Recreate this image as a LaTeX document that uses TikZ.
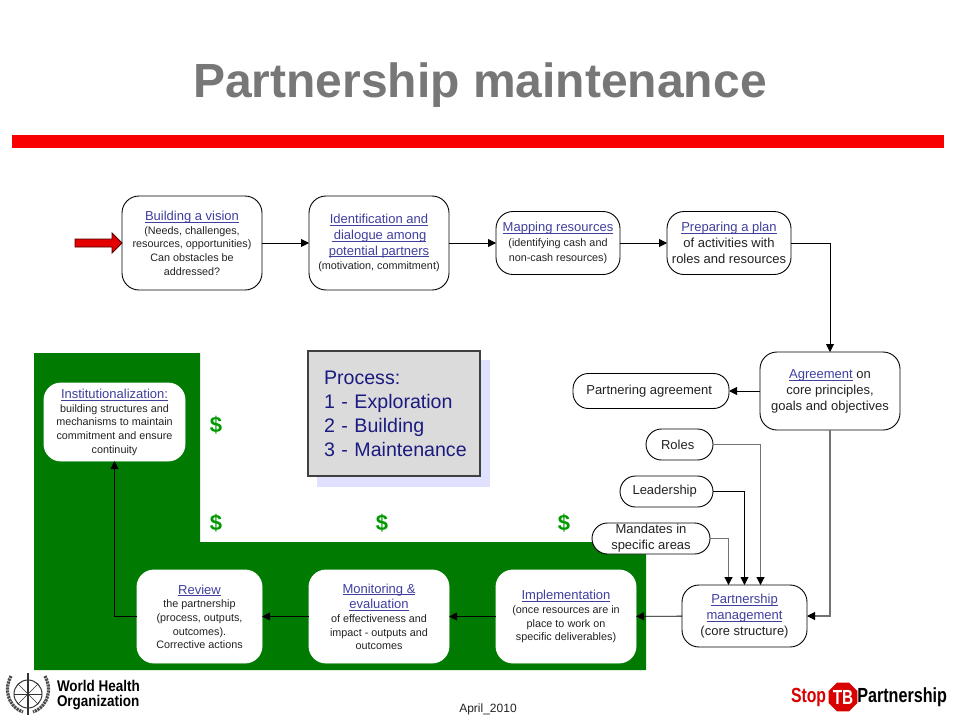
\documentclass[tikz,border=0pt]{standalone}
\usepackage{fontspec}
\setmainfont{Liberation Sans}
\usetikzlibrary{positioning,arrows.meta,shapes.geometric}
\definecolor{linkblue}{HTML}{3F3F9F}
\definecolor{txtdark}{HTML}{222222}
\definecolor{leafgreen}{HTML}{007A00}
\definecolor{dollargreen}{HTML}{009A00}
\definecolor{barred}{HTML}{F80000}
\definecolor{titlegray}{HTML}{777777}
\definecolor{navytxt}{HTML}{1A1A80}
\newcommand{\lnk}[1]{{\fontsize{13}{15}\selectfont\color{linkblue}\underline{\smash{#1}\rule{0pt}{10pt}}}}
\begin{document}
\begin{tikzpicture}[x=1pt, y=-1pt,
    every node/.style = { align = center, inner sep = 0pt, outer sep = 0pt, text = txtdark },
    stepbox/.style = { draw = black, fill = white, line width = .9pt, rounded corners = 17pt,
      font = \fontsize{10.8}{13.6}\selectfont },
    pill/.style = { stepbox, rounded corners = 15.5pt, font = \fontsize{13}{16}\selectfont },
    link/.style = { draw = black, line width = .9pt, -{Triangle[length = 8pt, width = 8pt, black]} },
    graylink/.style = { link, draw = black!55, line width = 1.1pt }
  ]
  \useasboundingbox (0,0) rectangle (960,720);
  \node (title) at (480,85) [font = \fontsize{48}{50}\bfseries\selectfont, text = titlegray] {Partnership maintenance};
  \fill [barred] (12,135) rectangle (944,148);
  \fill [leafgreen] (34,353) -- (200,353) -- (200,542) -- (646,542) -- (646,670) -- (34,670) -- cycle;
  \fill [fill = blue!60!white, opacity = .2] (317,360) rectangle (490,487);

  \node (vision) [stepbox, minimum width = 140pt, minimum height = 94pt] at (192,243)
    { \lnk{Building a vision} \\ (Needs, challenges, \\ resources, opportunities) \\ Can obstacles be \\ addressed? };
  \node (identify) [stepbox, minimum width = 140pt, minimum height = 94pt, right = 47pt of vision]
    { \lnk{Identification and} \\[2pt] \lnk{\,dialogue among} \\[2pt] \lnk{potential partners} \\[1pt] (motivation, commitment) };
  \node (mapping) [stepbox, minimum width = 124pt, minimum height = 63pt, right = 47pt of identify]
    { \lnk{Mapping resources} \\[1.5pt] (identifying cash and \\[1.5pt] non-cash resources) };
  \node (plan) [stepbox, minimum width = 124pt, minimum height = 63pt, right = 47pt of mapping, font = \fontsize{13}{16}\selectfont]
    { \lnk{Preparing a plan} \\ of activities with \\ roles and resources };
  \node (agree) [stepbox, minimum width = 140pt, minimum height = 78pt, font = \fontsize{13}{16}\selectfont] at (830,391)
    { \lnk{Agreement} on \\ core principles, \\ goals and objectives };
  \node (deal) [pill, minimum width = 156pt, minimum height = 35pt] at (651,391) { Partnering agreement };
  \node (roles) [pill, minimum width = 67pt, minimum height = 31pt] at (679.5,444.5) { Roles };
  \node (lead) [pill, minimum width = 93pt, minimum height = 31pt] at (666.5,491.5) { Leadership };
  \node (mandate) [pill, minimum width = 118pt, minimum height = 31pt] at (651,538.5) { Mandates in \\ specific areas };
  \node (manage) [stepbox, minimum width = 125pt, minimum height = 62pt, font = \fontsize{13}{16}\selectfont] at (744.5,616)
    { \lnk{Partnership} \\ \lnk{management} \\ (core structure) };
  \node (impl) [stepbox, draw = white, minimum width = 140pt, minimum height = 93pt] at (566,616.5)
    { \lnk{Implementation} \\ (once resources are in \\ place to work on \\ specific deliverables) };
  \node (monitor) [stepbox, draw = white, minimum width = 140pt, minimum height = 93pt, left = 47pt of impl]
    { \lnk{Monitoring \&} \\[2pt] \lnk{evaluation} \\ of effectiveness and \\ impact - outputs and \\ outcomes };
  \node (review) [stepbox, draw = white, minimum width = 125pt, minimum height = 93pt, left = 47pt of monitor]
    { \lnk{Review} \\ the partnership \\ (process, outputs, \\ outcomes). \\ Corrective actions };
  \node (inst) [stepbox, draw = white, minimum width = 141pt, minimum height = 78pt] at (114.5,422)
    { \lnk{Institutionalization:} \\ building structures and \\ mechanisms to maintain \\ commitment and ensure \\ continuity };

  \node (process) [draw = black!75, line width = 1.2pt, fill = black!14, minimum width = 172pt, minimum height = 125pt,
    text = navytxt, align = left, text width = 140pt, font = \fontsize{19.6}{24}\selectfont] at (394,413.5)
    { Process: \\ 1 - Exploration \\ 2 - Building \\ \mbox{3 - Maintenance} };

  \foreach \i/\x/\y in {a/216/425, b/216/523, c/382/523, d/564/523}
    \node (dollar\i) at (\x,\y) [text = dollargreen, font = \fontsize{22}{24}\bfseries\selectfont] {\$};

  \draw [draw = black!70!red, fill = red!90!black, line width = .8pt]
    (75,239) -- (112,239) -- (112,233) -- (122,243) -- (112,253) -- (112,247) -- (75,247) -- cycle;

  \draw [link] (vision) -- (identify);
  \draw [link] (identify) -- (mapping);
  \draw [link] (mapping) -- (plan);
  \draw [link] (plan.east) -| (agree.north);
  \draw [link] (agree.west) -- (deal.east);
  \draw [graylink] (agree.south) |- (manage.east);
  \draw [graylink] (roles.east) -| ([xshift = 16pt]manage.north);
  \draw [link] (lead.east) -| (manage.north);
  \draw [graylink] (mandate.east) -| ([xshift = -16pt]manage.north);
  \draw [link] (manage) -- (impl);
  \draw [link] (impl) -- (monitor);
  \draw [link] (monitor) -- (review);
  \draw [link] (review.west) -| (inst.south);

  \node (date) at (488,709) [font = \fontsize{12}{14}\selectfont] {April\_2010};

  \node (emblem) at (28,694) [circle, draw = black!80, line width = 1pt, minimum size = 28pt] {};
  \foreach \a in {0,45,...,135}
    \draw [black!80, line width = .6pt] (emblem.\a) -- (emblem.\a+180);
  \draw [black!80, line width = 1.6pt] (28,673) -- (28,715);
  \foreach \s in {-1,1}
    \draw [black!70, line width = 3.2pt, dash pattern = on 2.2pt off .8pt]
      (28+\s*17,676) .. controls (28+\s*24,688) and (28+\s*21,706) .. (28+\s*5,712);
  \node (who) at (57,695) [anchor = west, text = black, align = left, font = \fontsize{15.5}{15.5}\bfseries\selectfont]
    {\scalebox{.87}[1]{World Health} \\ \scalebox{.87}[1]{Organization}};

  \node (stoptxt) at (791,697) [anchor = west, text = red!85!black, font = \fontsize{17}{18}\bfseries\selectfont]
    {\scalebox{.93}[1.2]{Stop}};
  \node (tbstop) at (843,697) [regular polygon, regular polygon sides = 8, fill = red!85!black, minimum size = 30pt,
    text = white, font = \fontsize{17}{18}\bfseries\selectfont] {\scalebox{.9}[1.2]{TB}};
  \node (partner) at (947,697) [anchor = east, text = black, font = \fontsize{17}{18}\bfseries\selectfont]
    {\scalebox{.95}[1.2]{Partnership}};
\end{tikzpicture}
\end{document}
